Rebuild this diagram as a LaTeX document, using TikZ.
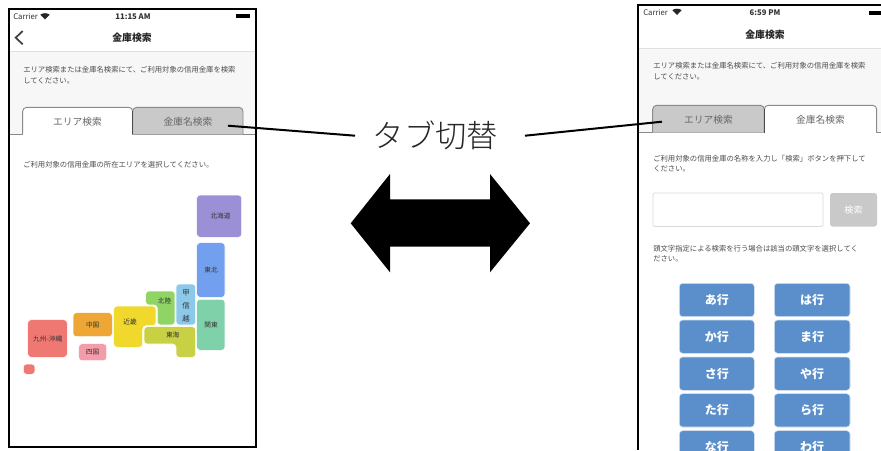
\documentclass[tikz,border=0pt]{standalone}
\usepackage{fontspec}
\setmainfont{Noto Sans CJK JP}
\newfontfamily\lightcjk{Noto Sans CJK JP Light}
\definecolor{band}{HTML}{F7F7F7}
\definecolor{tabgray}{HTML}{C9C9C9}
\definecolor{tabline}{HTML}{8A8A8A}
\definecolor{bluebtn}{HTML}{5B8FCB}
\definecolor{hokkaido}{HTML}{9B8FD6}
\definecolor{tohoku}{HTML}{729FEE}
\definecolor{kanto}{HTML}{7FD1AA}
\definecolor{koshin}{HTML}{8CC8EA}
\definecolor{hokuriku}{HTML}{90D465}
\definecolor{tokai}{HTML}{C8D044}
\definecolor{kinki}{HTML}{F0D92C}
\definecolor{chugoku}{HTML}{EEA634}
\definecolor{shikoku}{HTML}{F59CAA}
\definecolor{kyushu}{HTML}{F07872}
\begin{document}
\begin{tikzpicture}
  [
    x=0.75pt,y=-0.75pt,
    frame/.style={line width=1.5pt},
    tabedge/.style={draw=tabline,line width=0.7pt,rounded corners=3pt},
    region/.style={draw=white,line width=0.4pt,rounded corners=2.5pt},
    regiontext/.style={font=\fontsize{5pt}{6.2pt}\selectfont,text=black!80,inner sep=0pt,align=center},
    smalltext/.style={font=\fontsize{5.5pt}{6.6pt}\selectfont,text=black!70,anchor=west,inner sep=0pt},
    statustext/.style={font=\fontsize{5.8pt}{7pt}\selectfont,text=black!80,inner sep=0pt},
    titletext/.style={font=\bfseries\fontsize{7.4pt}{9pt}\selectfont,text=black!85,inner sep=0pt},
    tabtext/.style={font=\fontsize{7.3pt}{9pt}\selectfont,text=black!60,inner sep=0pt},
    gyobtn/.style={fill=bluebtn,draw=white!75!bluebtn,line width=0.4pt,rounded corners=2.5pt},
    gyotext/.style={font=\bfseries\fontsize{9pt}{11pt}\selectfont,text=white,inner sep=0pt},
    callout/.style={line width=1.5pt},
  ]
  \useasboundingbox (0,0) rectangle (881,450);
  \clip (0,0) rectangle (881,450);
  \fill [white] (0,0) rectangle (881,450);

  % left screen
  \fill [band] (9,51.7) rectangle (256,134.3);
  \draw [black!12,line width=0.4pt] (9,51.7) -- (256,51.7);
  \draw [tabline,line width=0.7pt] (9,134.3) -- (256,134.3);
  \draw [tabedge,fill=white] (22.7,134.3) -- (22.7,107.3) -- (132.7,107.3) -- (132.7,134.3);
  \fill [white] (23,133.8) rectangle (132.4,135);
  \draw [tabedge,fill=tabgray] (132.7,134.3) -- (132.7,107.3) -- (243,107.3) -- (243,134.3);
  \draw [black!70,line width=0.8pt] (132.7,111) -- (132.7,134.3);
  \node [statustext,anchor=west] (carrierA) at (13,17) {Carrier};
  \fill [black!85] (45,19.5) -- (40.3,14.7) .. controls (43,12.7) and (47,12.7) .. (49.7,14.7) -- cycle;
  \node [statustext] (timeA) at (133,17) {\bfseries 11:15 AM};
  \fill [black] (235.7,14.3) rectangle (250,18.3);
  \draw [black!75,line width=1.3pt] (22.7,31) -- (15.7,37.7) -- (22.7,44.3);
  \node [titletext] (titleA) at (132,37.5) {金庫検索};
  \node [smalltext] (introA) at (23,70) {エリア検索または金庫名検索にて、ご利用対象の信用金庫を検索};
  \node [smalltext] (introB) at (23,80.5) {してください。};
  \node [tabtext] (areaA) at (77.5,122) {エリア検索};
  \node [tabtext] (nameA) at (188,122) {金庫名検索};
  \node [smalltext] (guideA) at (23,165) {ご利用対象の信用金庫の所在エリアを選択してください。};

  % map of regions
  \draw [region,fill=hokkaido] (196.7,195) rectangle (241.7,237.3);
  \draw [region,fill=tohoku] (196.7,242.7) rectangle (225,297.3);
  \draw [region,fill=kanto] (196.7,299.3) rectangle (225,350.3);
  \draw [region,fill=koshin] (176,284) rectangle (195.7,325);
  \draw [region,fill=hokuriku] (145.7,291) -- (175,291) -- (175,325) -- (157.3,325) -- (157.3,305) -- (145.7,305) -- cycle;
  \draw [region,fill=tokai] (144,326.7) -- (195.7,326.7) -- (195.7,357.3) -- (176,357.3) -- (176,344) -- (144,344) -- cycle;
  \draw [region,fill=kinki] (113.7,306) -- (156,306) -- (156,325.7) -- (142.7,325.7) -- (142.7,347.3) -- (113.7,347.3) -- cycle;
  \draw [region,fill=chugoku] (73,312.7) rectangle (112.3,336.7);
  \draw [region,fill=shikoku] (78.7,343.7) rectangle (106.7,360.7);
  \draw [region,fill=kyushu] (27.7,319.7) rectangle (67.3,357.3);
  \draw [region,fill=kyushu] (23.3,364) rectangle (35,374.3);
  \node [regiontext] (nHokkaido) at (220.5,215.7) {北海道};
  \node [regiontext] (nTohoku) at (211,270) {東北};
  \node [regiontext] (nKanto) at (211,325) {関東};
  \node [regiontext,font=\fontsize{5.5pt}{10pt}\selectfont] (nKoshin) at (186,306) {甲\\信\\越};
  \node [regiontext] (nHokuriku) at (164.5,301) {北陸};
  \node [regiontext] (nTokai) at (172.7,335) {東海};
  \node [regiontext] (nKinki) at (130,322) {近畿};
  \node [regiontext] (nChugoku) at (92.7,325) {中国};
  \node [regiontext] (nShikoku) at (92.5,352.5) {四国};
  \node [regiontext] (nKyushu) at (47.7,339) {九州-沖縄};

  \draw [frame] (8.5,8.7) rectangle (256,446.7);

  % right screen
  \fill [band] (638,48.3) rectangle (881,132.7);
  \draw [black!12,line width=0.4pt] (638,48.3) -- (881,48.3);
  \draw [tabline,line width=0.7pt] (638,132.7) -- (881,132.7);
  \draw [tabedge,fill=tabgray] (652.7,132.7) -- (652.7,105.3) -- (764.3,105.3) -- (764.3,132.7);
  \draw [tabedge,fill=white] (764.3,132.7) -- (764.3,105.3) -- (876.7,105.3) -- (876.7,132.7);
  \fill [white] (764.7,132.2) rectangle (876.3,133.4);
  \draw [black!70,line width=0.8pt] (764.3,109) -- (764.3,132.7);
  \node [statustext,anchor=west] (carrierB) at (643,12.5) {Carrier};
  \fill [black!85] (677,15) -- (672.3,10.2) .. controls (675,8.2) and (679,8.2) .. (681.7,10.2) -- cycle;
  \node [statustext] (timeB) at (765,12.5) {\bfseries 6:59 PM};
  \fill [black] (869,11) rectangle (881,15);
  \node [titletext] (titleB) at (765,35) {金庫検索};
  \node [smalltext] (introC) at (653,66) {エリア検索または金庫名検索にて、ご利用対象の信用金庫を検索};
  \node [smalltext] (introD) at (653,76.5) {してください。};
  \node [tabtext] (areaB) at (708.5,120) {エリア検索};
  \node [tabtext] (nameB) at (820.5,120) {金庫名検索};
  \node [smalltext] (guideB) at (653,158.5) {ご利用対象の信用金庫の名称を入力し「検索」ボタンを押下して};
  \node [smalltext] (guideC) at (653,169) {ください。};
  \draw [black!15,line width=0.5pt,rounded corners=1pt] (653,193) rectangle (823,226.5);
  \fill [tabgray,rounded corners=2pt] (830,193) rectangle (877,226.5);
  \node [font=\fontsize{6.8pt}{8pt}\selectfont,text=white,inner sep=0pt] (searchB) at (853.5,210) {検索};
  \node [smalltext] (guideD) at (653,248.5) {頭文字指定による検索を行う場合は該当の頭文字を選択してく};
  \node [smalltext] (guideE) at (653,258.5) {ださい。};

  % rows of kana buttons
  \draw [gyobtn] (679.3,283.3) rectangle (754.3,316.7);
  \draw [gyobtn] (679.3,320) rectangle (754.3,353.3);
  \draw [gyobtn] (679.3,357) rectangle (754.3,390.3);
  \draw [gyobtn] (679.3,393.7) rectangle (754.3,427);
  \draw [gyobtn] (679.3,430.7) rectangle (754.3,464);
  \draw [gyobtn] (774.3,283.3) rectangle (850,316.7);
  \draw [gyobtn] (774.3,320) rectangle (850,353.3);
  \draw [gyobtn] (774.3,357) rectangle (850,390.3);
  \draw [gyobtn] (774.3,393.7) rectangle (850,427);
  \draw [gyobtn] (774.3,430.7) rectangle (850,464);
  \node [gyotext] (gyoA) at (716.8,300) {あ行};
  \node [gyotext] (gyoKa) at (716.8,336.7) {か行};
  \node [gyotext] (gyoSa) at (716.8,373.7) {さ行};
  \node [gyotext] (gyoTa) at (716.8,410.3) {た行};
  \node [gyotext] (gyoNa) at (716.8,447.3) {な行};
  \node [gyotext] (gyoHa) at (812,300) {は行};
  \node [gyotext] (gyoMa) at (812,336.7) {ま行};
  \node [gyotext] (gyoYa) at (812,373.7) {や行};
  \node [gyotext] (gyoRa) at (812,410.3) {ら行};
  \node [gyotext] (gyoWa) at (812,447.3) {わ行};

  \draw [frame] (881,4.5) -- (637.5,4.5) -- (637.5,450);

  % switching label and arrow
  \node [font=\lightcjk\fontsize{23.5pt}{28pt}\selectfont,text=black!85,inner sep=0pt] (switchlabel) at (435.5,135) {タブ切替};
  \coordinate (calloutL) at (355,135.7);
  \coordinate (calloutR) at (525,135.7);
  \coordinate (tabL) at (228,125.7);
  \coordinate (tabR) at (662,121.7);
  \draw [callout] (calloutL) -- (tabL);
  \draw [callout] (calloutR) -- (tabR);
  \fill [black] (350.7,223.3) -- (390,174) -- (390,199.3) -- (490,199.3) -- (490,174) -- (530,223.3) -- (490,272.3) -- (490,246.7) -- (390,246.7) -- (390,272.3) -- cycle;
\end{tikzpicture}
\end{document}
